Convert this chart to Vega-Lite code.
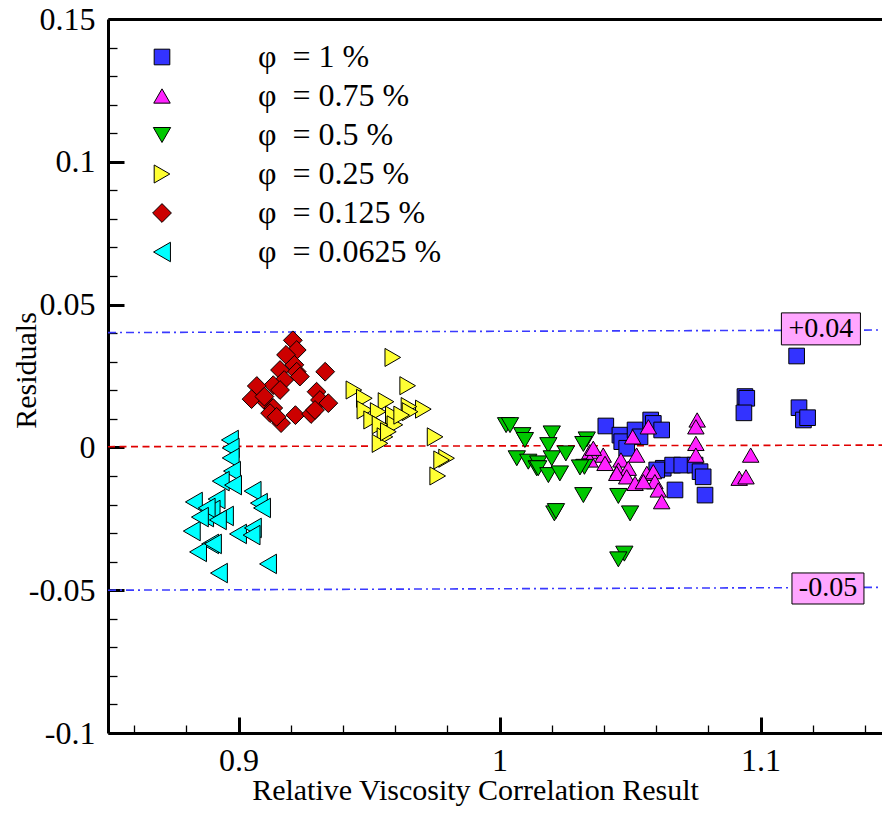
{
"$schema": "https://vega.github.io/schema/vega-lite/v6.json",
"width": 774, "height": 714,
"autosize": {"type": "none"},
"padding": {"left": 108, "top": 19, "right": 0, "bottom": 81},
"background": "white",
"config": {"view": {"stroke": null}, "font": "Liberation Serif"},
"datasets": {
"refs": [
{"x": 0.85, "y": 0.0402, "line": "up"}, {"x": 1.1465, "y": 0.0411, "line": "up"},
{"x": 0.85, "y": 0.00025, "line": "zero"}, {"x": 1.1465, "y": 0.0008, "line": "zero"},
{"x": 0.85, "y": -0.0500, "line": "low"}, {"x": 1.1465, "y": -0.0490, "line": "low"}
],
"notes": [
{"x": 1.1231, "y": 0.0415, "label": "+0.04"},
{"x": 1.1258, "y": -0.0494, "label": "-0.05"}
],
"pts": [
{"x":1.0407,"y":0.0075,"p":"1"},{"x":1.0461,"y":0.0043,"p":"1"},{"x":1.0468,"y":0.0020,"p":"1"},{"x":1.0519,"y":0.0061,"p":"1"},{"x":1.0538,"y":0.0037,"p":"1"},{"x":1.0579,"y":0.0096,"p":"1"},{"x":1.0589,"y":0.0084,"p":"1"},{"x":1.0621,"y":0.0061,"p":"1"},{"x":1.0487,"y":-0.0003,"p":"1"},{"x":1.0627,"y":-0.0073,"p":"1"},{"x":1.0663,"y":-0.0062,"p":"1"},{"x":1.0698,"y":-0.0062,"p":"1"},{"x":1.0749,"y":-0.0062,"p":"1"},{"x":1.0768,"y":-0.0085,"p":"1"},{"x":1.0780,"y":-0.0103,"p":"1"},{"x":1.0672,"y":-0.0149,"p":"1"},{"x":1.0787,"y":-0.0167,"p":"1"},{"x":1.0602,"y":-0.0079,"p":"1"},{"x":1.0940,"y":0.0178,"p":"1"},{"x":1.0947,"y":0.0172,"p":"1"},{"x":1.0936,"y":0.0121,"p":"1"},{"x":1.1138,"y":0.0320,"p":"1"},{"x":1.1147,"y":0.0139,"p":"1"},{"x":1.1164,"y":0.0096,"p":"1"},{"x":1.1180,"y":0.0104,"p":"1"},
{"x":1.0757,"y":0.0096,"p":"0.75"},{"x":1.0752,"y":0.0072,"p":"0.75"},{"x":1.0752,"y":0.0014,"p":"0.75"},{"x":1.0752,"y":-0.0027,"p":"0.75"},{"x":1.0570,"y":0.0072,"p":"0.75"},{"x":1.0510,"y":0.0037,"p":"0.75"},{"x":1.0346,"y":-0.0015,"p":"0.75"},{"x":1.0397,"y":-0.0027,"p":"0.75"},{"x":1.0404,"y":-0.0056,"p":"0.75"},{"x":1.0465,"y":-0.0044,"p":"0.75"},{"x":1.0525,"y":-0.0027,"p":"0.75"},{"x":1.0455,"y":-0.0079,"p":"0.75"},{"x":1.0493,"y":-0.0073,"p":"0.75"},{"x":1.0449,"y":-0.0091,"p":"0.75"},{"x":1.0487,"y":-0.0103,"p":"0.75"},{"x":1.0519,"y":-0.0126,"p":"0.75"},{"x":1.0564,"y":-0.0091,"p":"0.75"},{"x":1.0589,"y":-0.0085,"p":"0.75"},{"x":1.0595,"y":-0.0120,"p":"0.75"},{"x":1.0608,"y":-0.0149,"p":"0.75"},{"x":1.0621,"y":-0.0190,"p":"0.75"},{"x":1.0551,"y":-0.0120,"p":"0.75"},{"x":1.0962,"y":-0.0027,"p":"0.75"},{"x":1.0918,"y":-0.0108,"p":"0.75"},{"x":1.0944,"y":-0.0103,"p":"0.75"},{"x":1.0346,"y":-0.0044,"p":"0.75"},{"x":1.0359,"y":-0.0003,"p":"0.75"},
{"x":1.0025,"y":0.0078,"p":"0.5"},{"x":1.0040,"y":0.0078,"p":"0.5"},{"x":1.0087,"y":0.0043,"p":"0.5"},{"x":1.0097,"y":0.0026,"p":"0.5"},{"x":1.0200,"y":0.0049,"p":"0.5"},{"x":1.0187,"y":0.0008,"p":"0.5"},{"x":1.0066,"y":-0.0038,"p":"0.5"},{"x":1.0110,"y":-0.0050,"p":"0.5"},{"x":1.0148,"y":-0.0056,"p":"0.5"},{"x":1.0200,"y":-0.0038,"p":"0.5"},{"x":1.0254,"y":-0.0021,"p":"0.5"},{"x":1.0142,"y":-0.0073,"p":"0.5"},{"x":1.0148,"y":-0.0073,"p":"0.5"},{"x":1.0187,"y":-0.0097,"p":"0.5"},{"x":1.0231,"y":-0.0091,"p":"0.5"},{"x":1.0334,"y":0.0028,"p":"0.5"},{"x":1.0321,"y":0.0012,"p":"0.5"},{"x":1.0325,"y":-0.0068,"p":"0.5"},{"x":1.0308,"y":-0.0070,"p":"0.5"},{"x":1.0321,"y":-0.0167,"p":"0.5"},{"x":1.0210,"y":-0.0231,"p":"0.5"},{"x":1.0216,"y":-0.0223,"p":"0.5"},{"x":1.0455,"y":-0.0170,"p":"0.5"},{"x":1.0500,"y":-0.0231,"p":"0.5"},{"x":1.0478,"y":-0.0372,"p":"0.5"},{"x":1.0455,"y":-0.0392,"p":"0.5"},
{"x":0.9591,"y":0.0315,"p":"0.25"},{"x":0.9648,"y":0.0216,"p":"0.25"},{"x":0.9442,"y":0.0201,"p":"0.25"},{"x":0.9482,"y":0.0172,"p":"0.25"},{"x":0.9565,"y":0.0160,"p":"0.25"},{"x":0.9708,"y":0.0134,"p":"0.25"},{"x":0.9653,"y":0.0143,"p":"0.25"},{"x":0.9484,"y":0.0131,"p":"0.25"},{"x":0.9535,"y":0.0125,"p":"0.25"},{"x":0.9593,"y":0.0113,"p":"0.25"},{"x":0.9510,"y":0.0096,"p":"0.25"},{"x":0.9657,"y":0.0125,"p":"0.25"},{"x":0.9599,"y":0.0079,"p":"0.25"},{"x":0.9542,"y":0.0079,"p":"0.25"},{"x":0.9561,"y":0.0037,"p":"0.25"},{"x":0.9542,"y":0.0014,"p":"0.25"},{"x":0.9753,"y":0.0037,"p":"0.25"},{"x":0.9797,"y":-0.0038,"p":"0.25"},{"x":0.9778,"y":-0.0044,"p":"0.25"},{"x":0.9763,"y":-0.0100,"p":"0.25"},{"x":0.9625,"y":0.0113,"p":"0.25"},{"x":0.9574,"y":0.0055,"p":"0.25"},
{"x":0.9208,"y":0.0375,"p":"0.125"},{"x":0.9223,"y":0.0341,"p":"0.125"},{"x":0.9182,"y":0.0324,"p":"0.125"},{"x":0.9214,"y":0.0289,"p":"0.125"},{"x":0.9223,"y":0.0265,"p":"0.125"},{"x":0.9159,"y":0.0271,"p":"0.125"},{"x":0.9175,"y":0.0236,"p":"0.125"},{"x":0.9332,"y":0.0265,"p":"0.125"},{"x":0.9133,"y":0.0218,"p":"0.125"},{"x":0.9070,"y":0.0215,"p":"0.125"},{"x":0.9159,"y":0.0201,"p":"0.125"},{"x":0.9050,"y":0.0169,"p":"0.125"},{"x":0.9108,"y":0.0157,"p":"0.125"},{"x":0.9133,"y":0.0138,"p":"0.125"},{"x":0.9163,"y":0.0085,"p":"0.125"},{"x":0.9218,"y":0.0113,"p":"0.125"},{"x":0.9278,"y":0.0117,"p":"0.125"},{"x":0.9299,"y":0.0195,"p":"0.125"},{"x":0.9312,"y":0.0166,"p":"0.125"},{"x":0.9344,"y":0.0155,"p":"0.125"},{"x":0.9099,"y":0.0178,"p":"0.125"},{"x":0.9121,"y":0.0120,"p":"0.125"},{"x":0.9146,"y":0.0107,"p":"0.125"},{"x":0.9293,"y":0.0131,"p":"0.125"},{"x":0.9235,"y":0.0248,"p":"0.125"},
{"x":0.8967,"y":0.0026,"p":"0.0625"},{"x":0.8970,"y":-0.0002,"p":"0.0625"},{"x":0.8970,"y":-0.0037,"p":"0.0625"},{"x":0.8975,"y":-0.0083,"p":"0.0625"},{"x":0.8932,"y":-0.0118,"p":"0.0625"},{"x":0.8979,"y":-0.0132,"p":"0.0625"},{"x":0.9054,"y":-0.0153,"p":"0.0625"},{"x":0.8829,"y":-0.0191,"p":"0.0625"},{"x":0.8916,"y":-0.0181,"p":"0.0625"},{"x":0.8897,"y":-0.0219,"p":"0.0625"},{"x":0.9078,"y":-0.0195,"p":"0.0625"},{"x":0.9090,"y":-0.0212,"p":"0.0625"},{"x":0.8872,"y":-0.0244,"p":"0.0625"},{"x":0.8948,"y":-0.0240,"p":"0.0625"},{"x":0.8821,"y":-0.0293,"p":"0.0625"},{"x":0.8998,"y":-0.0303,"p":"0.0625"},{"x":0.9055,"y":-0.0282,"p":"0.0625"},{"x":0.9050,"y":-0.0307,"p":"0.0625"},{"x":0.8891,"y":-0.0338,"p":"0.0625"},{"x":0.8845,"y":-0.0366,"p":"0.0625"},{"x":0.9113,"y":-0.0408,"p":"0.0625"},{"x":0.8925,"y":-0.0440,"p":"0.0625"},{"x":0.8878,"y":-0.0212,"p":"0.0625"},{"x":0.8921,"y":-0.0254,"p":"0.0625"},{"x":0.8852,"y":-0.0244,"p":"0.0625"},{"x":0.8902,"y":-0.0338,"p":"0.0625"}
]
},
"resolve": {"axis": {"x": "independent", "y": "independent"}, "scale": {"color": "independent", "shape": "independent", "strokeDash": "independent", "size": "independent"}, "legend": {"color": "independent", "shape": "independent", "strokeDash": "independent", "size": "independent"}},
"layer": [
{
"data": {"name": "refs"},
"mark": {"type": "line", "strokeWidth": 1.6},
"encoding": {
"x": {"field": "x", "type": "quantitative", "scale": {"domain": [0.85, 1.1465], "nice": false, "zero": false},
 "axis": {"orient": "bottom", "values": [0.86,0.88,0.92,0.94,0.96,0.98,1.02,1.04,1.06,1.08,1.12,1.14], "labels": false, "domain": false, "grid": false, "tickSize": -8, "tickWidth": 1.3, "tickColor": "black", "title": null}},
"y": {"field": "y", "type": "quantitative", "scale": {"domain": [-0.1, 0.15], "nice": false, "zero": false},
 "axis": {"orient": "left", "values": [-0.09,-0.08,-0.07,-0.06,-0.04,-0.03,-0.02,-0.01,0.01,0.02,0.03,0.04,0.06,0.07,0.08,0.09,0.11,0.12,0.13,0.14], "labels": false, "domain": false, "grid": false, "tickSize": -9, "tickWidth": 1.3, "tickColor": "black", "title": null}},
"color": {"field": "line", "type": "nominal", "scale": {"domain": ["up", "zero", "low"], "range": ["#3a3aff", "#e00000", "#3a3aff"]}, "legend": null},
"strokeDash": {"field": "line", "type": "nominal", "scale": {"domain": ["up", "zero", "low"], "range": [[8, 4, 2, 4], [7, 4.5], [8, 4, 2, 4]]}, "legend": null}
}
},
{
"data": {"name": "pts"},
"mark": {"type": "point", "filled": true, "stroke": "black", "strokeWidth": 1, "opacity": 1},
"encoding": {
"x": {"field": "x", "type": "quantitative", "scale": {"domain": [0.85, 1.1465], "nice": false, "zero": false},
 "axis": {"orient": "bottom", "values": [0.9, 1, 1.1], "labelExpr": "toString(round(datum.value*10)/10)", "grid": false, "domain": true, "domainColor": "black", "domainWidth": 3, "tickColor": "black", "tickSize": -16, "tickWidth": 3, "labelFont": "Liberation Serif", "labelFontSize": 32, "labelColor": "black", "labelPadding": 28, "labelFlush": false, "labelOverlap": false,
  "title": "Relative Viscosity Correlation Result", "titleFont": "Liberation Serif", "titleFontSize": 30, "titleFontWeight": "normal", "titleColor": "black", "titleX": 367, "titleY": 66, "titleBaseline": "alphabetic", "titleAlign": "center"}},
"y": {"field": "y", "type": "quantitative", "scale": {"domain": [-0.1, 0.15], "nice": false, "zero": false},
 "axis": {"orient": "left", "values": [-0.1, -0.05, 0, 0.05, 0.1, 0.15], "labelExpr": "toString(round(datum.value*100)/100)", "grid": false, "domain": true, "domainColor": "black", "domainWidth": 3, "tickColor": "black", "tickSize": -16, "tickWidth": 3, "labelFont": "Liberation Serif", "labelFontSize": 32, "labelColor": "black", "labelPadding": 29, "labelFlush": false, "labelOverlap": false,
  "title": "Residuals", "titleFont": "Liberation Serif", "titleFontSize": 30, "titleFontWeight": "normal", "titleColor": "black", "titleX": -73, "titleY": 351, "titleAngle": -90, "titleBaseline": "alphabetic", "titleAlign": "center"}},
"color": {"field": "p", "type": "nominal", "scale": {"domain": ["1", "0.75", "0.5", "0.25", "0.125", "0.0625"], "range": ["#3333ff", "#ff22ff", "#00c800", "#ffff33", "#cc0000", "#00ffff"]},
 "legend": {"title": null, "orient": "none", "legendX": 38, "legendY": 22, "padding": 0, "labelExpr": "'φ\u00a0\u00a0= ' + datum.label + ' %'", "labelFont": "Liberation Serif", "labelFontSize": 32, "labelColor": "black", "labelOffset": 80, "labelLimit": 500, "rowPadding": 7, "symbolStrokeColor": "black", "symbolStrokeWidth": 1}},
"shape": {"field": "p", "type": "nominal", "scale": {"domain": ["1", "0.75", "0.5", "0.25", "0.125", "0.0625"], "range": ["square", "triangle-up", "triangle-down", "triangle-right", "diamond", "triangle-left"]}},
"size": {"field": "p", "type": "nominal", "scale": {"domain": ["1", "0.75", "0.5", "0.25", "0.125", "0.0625"], "range": [245, 380, 380, 380, 500, 360]}}
}
},
{
"data": {"name": "notes"},
"mark": {"type": "point", "filled": true, "fill": "#ffa6ff", "stroke": "black", "strokeWidth": 1, "opacity": 1, "size": 1024},
"encoding": {
"x": {"field": "x", "type": "quantitative", "scale": {"domain": [0.85, 1.1465], "nice": false, "zero": false},
 "axis": {"orient": "top", "ticks": false, "labels": false, "domain": true, "domainWidth": 3, "domainColor": "black", "grid": false, "title": null}},
"y": {"field": "y", "type": "quantitative", "scale": {"domain": [-0.1, 0.15], "nice": false, "zero": false}, "axis": null},
"shape": {"field": "label", "type": "nominal", "scale": {"domain": ["+0.04", "-0.05"], "range": ["M-2.47,-1L2.47,-1L2.47,1L-2.47,1Z", "M-2.25,-0.97L2.25,-0.97L2.25,0.97L-2.25,0.97Z"]}, "legend": null}
}
},
{
"data": {"name": "notes"},
"mark": {"type": "text", "font": "Liberation Serif", "fontSize": 28, "color": "black", "align": "center", "baseline": "middle"},
"encoding": {
"x": {"field": "x", "type": "quantitative", "scale": {"domain": [0.85, 1.1465], "nice": false, "zero": false}, "axis": null},
"y": {"field": "y", "type": "quantitative", "scale": {"domain": [-0.1, 0.15], "nice": false, "zero": false}, "axis": null},
"text": {"field": "label", "type": "nominal"}
}
}
]
}
